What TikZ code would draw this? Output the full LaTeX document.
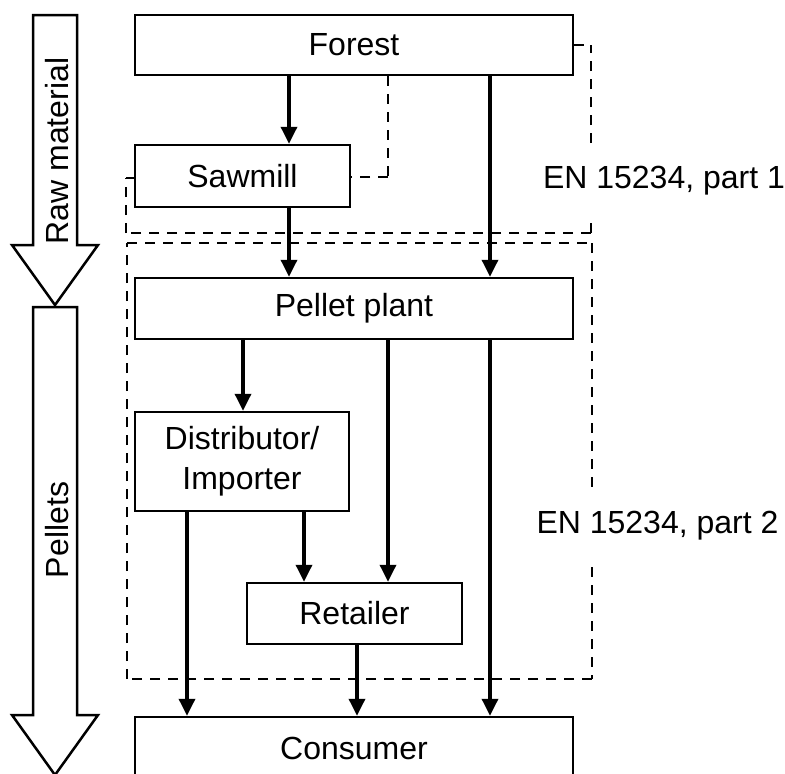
\documentclass[tikz,border=0pt]{standalone}
\usepackage{fontspec}
\setmainfont{Liberation Sans}
\usetikzlibrary{arrows.meta}
\begin{document}
\begin{tikzpicture}[x=1pt,y=-1pt,
  every node/.style={font=\fontsize{32}{40}\selectfont},
  box/.style={draw,line width=2.5pt,inner sep=0pt,align=center},
  arr/.style={line width=3.5pt,-{Triangle[length=17pt,width=16pt]}},
  dsh/.style={line width=2.5pt,dash pattern=on 10pt off 8pt},
  lbl/.style={fill=white,draw=none,inner sep=0pt,minimum height=70pt},
  blockarrow/.style={draw,line width=2.5pt,fill=white,line join=miter}]
\useasboundingbox (0,0) rectangle (785,774);
\clip (0,0) rectangle (785,774);
% block arrows
\draw[blockarrow] (33,15) -- (77,15) -- (77,245) -- (98,245) -- (55,305) -- (12,245) -- (33,245) -- cycle;
\draw[blockarrow] (33,307) -- (77,307) -- (77,715) -- (98,715) -- (55,775) -- (12,715) -- (33,715) -- cycle;
\node[rotate=90] (raw) at (57,151) {Raw material};
\node[rotate=90] (pel) at (57,530) {Pellets};
% boxes
\node[box,minimum width=438pt,minimum height=60pt] (forest) at (354,45) {Forest};
\node[box,minimum width=215pt,minimum height=62pt] (saw) at (242.5,176) {Sawmill};
\node[box,minimum width=438pt,minimum height=61pt] (pp) at (354,308.5) {Pellet plant};
\node[box,minimum width=214pt,minimum height=99pt] (dist) at (242,461.5) {Distributor/\\Importer};
\node[box,minimum width=215pt,minimum height=61pt] (ret) at (354.5,613.5) {Retailer};
\node[box,minimum width=438pt,minimum height=63pt] (cons) at (354,748.5) {Consumer};
% column coordinates
\coordinate (x187) at (187,0);
\coordinate (x243) at (243,0);
\coordinate (x289) at (289,0);
\coordinate (x304) at (304,0);
\coordinate (x357) at (357,0);
\coordinate (x388) at (388,0);
\coordinate (x490) at (490,0);
% dashed region 1 (EN 15234, part 1)
\coordinate (d1a) at (591,45);
\coordinate (d1b) at (591,233);
\coordinate (d1c) at (126,233);
\coordinate (d1d) at (126,178);
\draw[dsh] (forest.east) -- (d1a);
\draw[dsh] (d1b) -- (d1a);
\draw[dsh] (d1b) -- (d1c);
\draw[dsh] (d1c) -- (d1d);
\draw[dsh] (saw.west |- d1d) -- (d1d);
\coordinate (d1e) at (388,177);
\draw[dsh] (forest.south -| x388) -- (d1e);
\draw[dsh] (d1e) -- (saw.east |- d1e);
% dashed region 2 (EN 15234, part 2)
\coordinate (d2a) at (127,243);
\coordinate (d2b) at (592,243);
\coordinate (d2c) at (592,679);
\coordinate (d2d) at (127,679);
\draw[dsh] (d2a) -- (d2b);
\draw[dsh] (d2b) -- (d2c);
\draw[dsh] (d2c) -- (d2d);
\draw[dsh] (d2d) -- (d2a);
% connectors
\draw[arr] (forest.south -| x289) -- (saw.north -| x289);
\draw[arr] (saw.south -| x289) -- (pp.north -| x289);
\draw[arr] (forest.south -| x490) -- (pp.north -| x490);
\draw[arr] (pp.south -| x243) -- (dist.north -| x243);
\draw[arr] (pp.south -| x388) -- (ret.north -| x388);
\draw[arr] (pp.south -| x490) -- (cons.north -| x490);
\draw[arr] (dist.south -| x304) -- (ret.north -| x304);
\draw[arr] (dist.south -| x187) -- (cons.north -| x187);
\draw[arr] (ret.south -| x357) -- (cons.north -| x357);
% labels covering the dashed lines
\node[lbl] (en1) at (664,181) {EN 15234, part 1};
\node[lbl] (en2) at (657.5,526) {EN 15234, part 2};
\end{tikzpicture}
\end{document}
